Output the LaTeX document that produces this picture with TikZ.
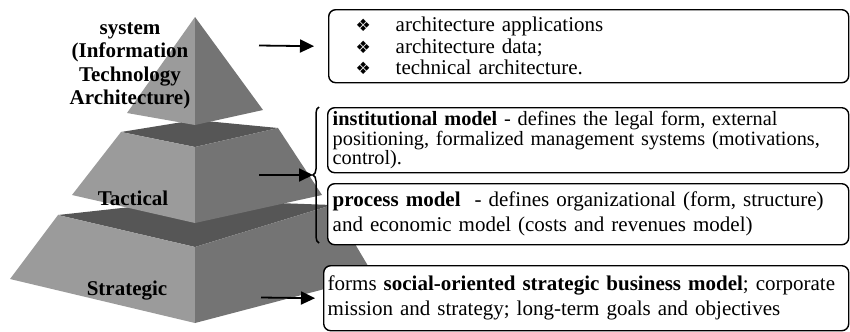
\documentclass[tikz,border=0pt]{standalone}
\usepackage{fontspec}
\setmainfont{Liberation Serif}
\newfontfamily\symfont{DejaVu Sans}
\usetikzlibrary{arrows.meta,decorations.pathreplacing}
\definecolor{pyrleft}{HTML}{9B9B9B}
\definecolor{pyrright}{HTML}{747474}
\definecolor{pyrtop}{HTML}{565656}
\newcommand{\bulmark}{\makebox[40bp][l]{\symfont\fontsize{17bp}{17bp}\selectfont ❖}}
\begin{document}
\begin{tikzpicture}[x=1bp,y=-1bp,
  infobox/.style={draw, fill=white, line width=1.4bp, rounded corners=7bp, anchor=north west,
    align=left, inner ysep=0pt},
  lvl/.style={font=\bfseries\fontsize{21bp}{23.5bp}\selectfont, align=center, inner sep=0pt},
  arr/.style={line width=1.8bp, -{Triangle[length=14bp,width=13bp]}},
  brc/.style={decorate, decoration={brace, amplitude=6bp}, line width=1.5bp}]
\useasboundingbox (0,0) rectangle (850,331);

% pyramid coordinates
\coordinate (apex) at (195,17);
\coordinate (tl) at (127,113);
\coordinate (tf) at (195,125);
\coordinate (tr) at (263,110);
\coordinate (mtl) at (121,132);
\coordinate (mtb) at (195,120);
\coordinate (mtr) at (278,128);
\coordinate (mtf) at (195,147);
\coordinate (mbl) at (72,195);
\coordinate (mbf) at (195,223);
\coordinate (mbr) at (322,195);
\coordinate (btl) at (58,215);
\coordinate (btb) at (195,200);
\coordinate (btr) at (332,205);
\coordinate (btf) at (195,247);
\coordinate (bbl) at (10,279);
\coordinate (bbf) at (195,323);
\coordinate (bbr) at (374,276);

% bottom tier
\fill[pyrtop] (btl) -- (btb) -- (btr) -- (btf) -- cycle;
\fill[pyrleft] (btl) -- (btf) -- (bbf) -- (bbl) -- cycle;
\fill[pyrright] (btf) -- (btr) -- (bbr) -- (bbf) -- cycle;
% middle tier
\fill[pyrtop] (mtl) -- (mtb) -- (mtr) -- (mtf) -- cycle;
\fill[pyrleft] (mtl) -- (mtf) -- (mbf) -- (mbl) -- cycle;
\fill[pyrright] (mtf) -- (mtr) -- (mbr) -- (mbf) -- cycle;
% top pyramid
\fill[pyrleft] (apex) -- (tl) -- (tf) -- cycle;
\fill[pyrright] (apex) -- (tf) -- (tr) -- cycle;

% level labels
\node[lvl] (sys) at (130,66) {system\\(Information\\Technology\\Architecture)};
\node[lvl, anchor=base] (tac) at (133,205) {Tactical};
\node[lvl, anchor=base] (str) at (127,295) {Strategic};

% boxes
\node[infobox, minimum width=520bp, minimum height=73bp, inner xsep=27bp, text width=466bp,
  font=\fontsize{21bp}{21.5bp}\selectfont] (box1) at (328,9)
  {\bulmark architecture applications\\ \bulmark architecture data;\\ \bulmark technical architecture.};
\node[infobox, minimum width=521bp, minimum height=65bp, inner xsep=5bp, text width=511bp,
  font=\fontsize{20.3bp}{19.5bp}\selectfont] (box2) at (327,107)
  {\textbf{institutional model} - defines the legal form, external\\ positioning, formalized management systems (motivations,\\ control).};
\node[infobox, minimum width=521bp, minimum height=61bp, inner xsep=5bp, text width=511bp,
  font=\fontsize{21bp}{25bp}\selectfont] (box3) at (327,183)
  {\textbf{process model}~ - defines organizational (form, structure)\\ and economic model (costs and revenues model)};
\node[infobox, minimum width=525bp, minimum height=65bp, inner xsep=4bp, text width=517bp,
  font=\fontsize{21bp}{25bp}\selectfont] (box4) at (323,265)
  {forms \textbf{social-oriented strategic business model}; corporate\\ mission and strategy; long-term goals and objectives};

% brace and arrows
\coordinate (brbot) at (319,243);
\coordinate (brtop) at (319,107);
\coordinate (brtip) at (313,175);
\draw[brc] (brbot) -- (brtop);
\coordinate (a1) at (259,45.5);
\coordinate (a2) at (259,175);
\coordinate (a3) at (261,297.5);
\draw[arr] (a1) -- ([xshift=-14bp]box1.west);
\draw[arr] (a2) -- (brtip);
\draw[arr] (a3) -- ([xshift=-8bp]box4.west);
\end{tikzpicture}
\end{document}
